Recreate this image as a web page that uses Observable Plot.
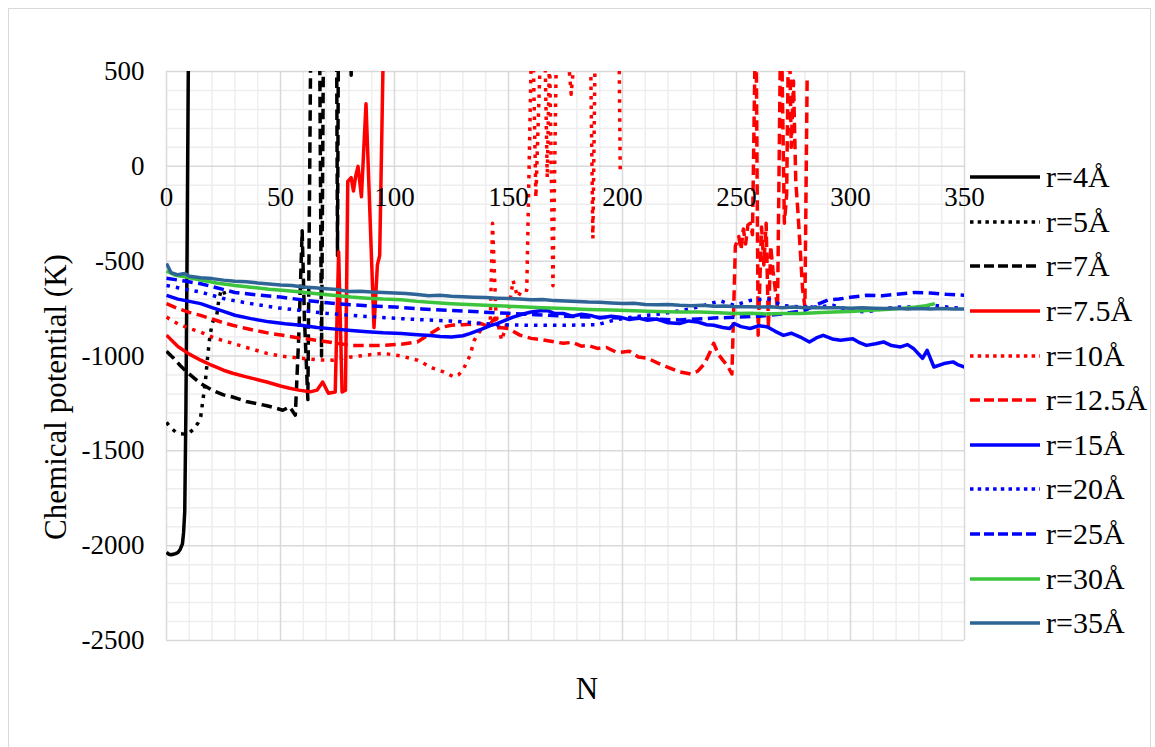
<!DOCTYPE html>
<html>
<head>
<meta charset="utf-8">
<script src="https://cdn.jsdelivr.net/npm/d3@7"></script>
<script src="https://cdn.jsdelivr.net/npm/@observablehq/plot@0.6"></script>
<style>
html,body{margin:0;padding:0;background:#fff;}
#wrap{position:relative;width:1155px;height:747px;font-family:"Liberation Serif","Times New Roman",serif;color:#000;}
#wrap svg{position:absolute;left:0;top:0;}
#border{position:absolute;left:8px;top:8px;width:1143px;height:740px;border:1.5px solid #d9d9d9;box-sizing:border-box;pointer-events:none;}
#ytitle{position:absolute;left:56px;top:397px;transform:translate(-50%,-50%) rotate(-90deg);font-size:31px;white-space:nowrap;}
#xtitle{position:absolute;left:587px;top:689px;transform:translate(-50%,-50%);font-size:31px;}
#legend{position:absolute;left:970px;top:155px;}
.item{display:flex;align-items:center;height:44.6px;font-size:30px;white-space:nowrap;}
.item svg{position:static !important;margin-right:6px;}
</style>
</head>
<body>
<div id="wrap">
  <div id="chart"></div>
  <div id="ytitle">Chemical potential (K)</div>
  <div id="xtitle">N</div>
  <div id="legend"></div>
  <div id="border"></div>
</div>
<script>
// ---- axis ticks ----
const xTicks = [0, 50, 100, 150, 200, 250, 300, 350];
const yTicks = [500, 0, -500, -1000, -1500, -2000, -2500];
const xMinor = [10,20,30,40,60,70,80,90,110,120,130,140,160,170,180,190,210,220,230,240,260,270,280,290,310,320,330,340];
const yMinor = [400,300,200,100,-100,-200,-300,-400,-600,-700,-800,-900,-1100,-1200,-1300,-1400,-1600,-1700,-1800,-1900,-2100,-2200,-2300,-2400];

// ---- series names / styles ----
const seriesNames = ["r=4Å","r=5Å","r=7Å","r=7.5Å","r=10Å","r=12.5Å","r=15Å","r=20Å","r=25Å","r=30Å","r=35Å"];
const seriesColors = ["#000000","#000000","#000000","#ff0000","#ff0000","#ff0000","#0000ff","#0000ff","#0000ff","#3cc43c","#2e6596"];
const seriesStyles = ["solid","dot","dash","solid","dot","dash","solid","dot","dash","solid","solid"];

// ---- data: [N, chemical potential (K)] ----
const r4 = [[0,-2035],[1,-2045],[2,-2048],[3,-2045],[4,-2042],[5,-2036],[6,-2020],[7,-1990],[7.5,-1930],[8,-1820],[8.5,-1300],[9,-500],[9.5,400],[10,1200]];
const r5 = [[0,-1350],[2,-1380],[4,-1400],[6,-1410],[8,-1412],[10,-1405],[12,-1385],[14,-1350],[15,-1320],[16,-1230],[17,-1140],[18,-1010],[19,-900],[20,-830],[21,-800],[22,-790],[23,-700],[24,-650],[25,-655],[26,-690],[27,-700]];
const r7 = [[0,-975],[3,-1010],[6,-1050],[9,-1085],[12,-1115],[15,-1145],[20,-1180],[25,-1205],[29,-1216],[35,-1240],[40,-1252],[44,-1262],[48,-1275],[51,-1286],[54,-1268],[56.5,-1312],[58,-900],[59.5,-340],[60.5,-800],[62,-1230],[63.5,1000],[67,1000],[68,-1000],[69,1000],[74.5,1000],[75,-470],[75.5,1000],[80.5,1000],[81,480],[81.5,1000]];
const r7_5 = [[0,-890],[5,-950],[10,-990],[15,-1022],[20,-1050],[25,-1075],[29,-1091],[35,-1110],[40,-1125],[44,-1137],[50,-1158],[54,-1170],[58,-1180],[63,-1189],[66,-1180],[68.5,-1137],[71,-1196],[74,-1190],[75.5,-450],[77,-1190],[78.5,-1180],[79.5,-80],[81,-60],[82,-130],[83,-50],[84,0],[85.5,-160],[87.5,330],[91,-850],[92.5,-520],[93.5,-470],[95.5,900]];
const r10 = [[0,-795],[5,-830],[10,-855],[15,-874],[20,-900],[25,-920],[29,-933],[35,-955],[44,-986],[50,-1000],[59,-1012],[66,-1020],[73,-1022],[81,-1005],[88,-995],[95,-986],[103,-1000],[110,-1022],[117,-1065],[121.5,-1084],[126,-1110],[128,-1100],[130,-1075],[133,-1000],[135,-917],[138,-860],[142,-829],[143,-300],[144.5,-780],[147,-917],[149,-840],[152,-602],[154,-690],[156,-650],[158,-654],[160,600],[161,500],[162,-164],[164,600],[166,600],[167,-60],[168,600],[169.5,-630],[171,600],[176,600],[177.5,380],[179,600],[186,600],[187,-380],[188,600],[198.5,600],[199,-20]];
const r12_5 = [[0,-724],[5,-750],[10,-770],[15,-786],[20,-805],[25,-825],[29,-838],[35,-855],[40,-868],[45,-880],[51,-891],[58,-905],[66,-917],[73,-930],[81,-944],[88,-945],[95,-944],[103,-938],[110,-926],[116,-880],[120,-850],[125,-838],[130,-835],[138,-829],[141,-845],[144,-800],[146,-850],[150,-855],[155,-890],[160,-907],[165,-915],[170,-925],[174,-933],[178,-928],[182,-948],[185,-945],[189,-960],[193,-955],[197,-978],[199,-980],[203,-975],[207,-1005],[211,-1012],[216,-1040],[220,-1060],[225,-1084],[230,-1095],[233,-1080],[236,-1040],[238,-990],[240,-933],[242,-990],[244,-1022],[246,-1050],[248,-1095],[249.5,-420],[251,-370],[252,-440],[253,-330],[254,-410],[255,-310],[256,-300],[257,-360],[258.5,900],[259.5,-890],[261,-320],[262,-520],[263,-300],[264,-850],[265,-420],[266,-550],[268,-750],[269.5,900],[271,-300],[272,-150],[273,900],[274,100],[275,450],[276,-80],[277,-250],[278,-450],[279,-650],[280,-740],[281,480]];
const r15 = [[0,-680],[5,-700],[10,-712],[15,-724],[20,-745],[25,-765],[30,-785],[37,-803],[45,-820],[52,-830],[59,-838],[66,-850],[73,-857],[81,-865],[88,-872],[95,-878],[103,-882],[110,-888],[116,-892],[120,-897],[125,-900],[130,-893],[133,-882],[138,-860],[142,-840],[145,-829],[149,-810],[152,-795],[156,-780],[160,-768],[164,-762],[167,-760],[170,-775],[174,-776],[178,-790],[182,-780],[186,-786],[190,-800],[195,-790],[199,-795],[203,-808],[207,-800],[211,-812],[215,-805],[220,-825],[225,-829],[229,-815],[233,-821],[237,-835],[240,-838],[244,-850],[247,-855],[249,-829],[252,-845],[256,-855],[260,-840],[263.6,-847],[267,-870],[270.6,-891],[274,-880],[278,-900],[282,-926],[285,-905],[288,-891],[292,-910],[295.6,-917],[301,-909],[304,-930],[307,-944],[311,-935],[314.5,-926],[318,-945],[322,-952],[325,-940],[327.6,-960],[331.6,-1012],[333.6,-970],[336.6,-1058],[341,-1040],[345,-1031],[347,-1045],[350,-1058]];
const r20 = [[0,-628],[5,-640],[10,-652],[15,-663],[20,-680],[26,-700],[37,-724],[48,-745],[59,-760],[70,-775],[81,-786],[92,-795],[103,-803],[114,-810],[125,-816],[135,-825],[145,-835],[160,-838],[174,-838],[189,-835],[196,-812],[204,-795],[211,-785],[218,-776],[226,-760],[233,-742],[238,-725],[243,-710],[249,-733],[256,-707],[263.6,-698],[270,-733],[278,-742],[285,-742],[292.5,-733],[300,-760],[307,-768],[314.5,-750],[322,-742],[329,-742],[336.6,-733],[342.5,-742],[350,-750]];
const r25 = [[0,-590],[8,-605],[15,-619],[22,-640],[30,-665],[40,-678],[50,-689],[62,-708],[75,-725],[88,-735],[100,-742],[112,-752],[125,-760],[138,-768],[150,-775],[162,-782],[175,-790],[188,-795],[200,-800],[212,-805],[225,-810],[240,-800],[250,-795],[260,-790],[270,-778],[280,-760],[285,-730],[290,-705],[295,-700],[300,-690],[307,-680],[314,-682],[320,-675],[328,-665],[335,-668],[342,-675],[350,-680]];
const r30 = [[0,-552],[4,-575],[8,-582],[15,-600],[22,-615],[30,-628],[37,-637],[45,-648],[52,-655],[59,-663],[66,-672],[73,-680],[81,-689],[88,-695],[95,-700],[103,-703],[110,-712],[117,-718],[125,-724],[135,-730],[145,-735],[155,-740],[165,-745],[175,-750],[185,-755],[195,-758],[205,-762],[215,-765],[225,-768],[234,-768],[242,-772],[249,-776],[256,-775],[263,-778],[270,-776],[278,-776],[285,-772],[292.5,-768],[300,-765],[307,-760],[315,-755],[322,-750],[329,-742],[333,-735],[337,-724]];
const r35 = [[0,-512],[2,-560],[5,-572],[8,-565],[10,-580],[15,-588],[20,-592],[25,-600],[30,-606],[35,-608],[40,-615],[45,-620],[50,-626],[55,-628],[60,-636],[65,-640],[70,-645],[75,-650],[80,-660],[85,-658],[90,-663],[95,-665],[100,-668],[105,-670],[110,-676],[115,-682],[120,-680],[125,-685],[130,-688],[135,-690],[140,-692],[145,-695],[150,-697],[155,-700],[160,-703],[165,-702],[170,-708],[175,-710],[180,-712],[185,-715],[190,-716],[195,-720],[200,-723],[205,-722],[210,-728],[215,-730],[220,-728],[225,-733],[230,-735],[235,-733],[240,-738],[245,-736],[250,-740],[255,-740],[260,-742],[265,-740],[270,-745],[275,-742],[280,-745],[285,-744],[290,-746],[295,-745],[300,-748],[305,-746],[310,-748],[315,-750],[320,-748],[325,-752],[330,-750],[335,-752],[340,-750],[345,-752],[350,-752]];

const seriesData = [r4, r5, r7, r7_5, r10, r12_5, r15, r20, r25, r30, r35];

const dashFor = {solid: null, dot: "3.5 6", dash: "10.5 5.5"};
const legendDash = {solid: null, dot: "3.5 4.2", dash: "10 4"};

const lineMarks = seriesData.map((d, i) =>
  Plot.line(d.map(([N, v]) => ({N, v})), {
    x: "N", y: "v",
    stroke: seriesColors[i],
    strokeWidth: 3.5,
    strokeDasharray: dashFor[seriesStyles[i]] || undefined,
    strokeLinecap: "butt",
    strokeLinejoin: "round",
    clip: true
  })
);

const chart = Plot.plot({
  width: 1155,
  height: 747,
  marginLeft: 166,
  marginRight: 191,
  marginTop: 71,
  marginBottom: 107,
  x: {domain: [0, 350], axis: null},
  y: {domain: [-2500, 500], axis: null},
  style: {fontFamily: "Liberation Serif, Times New Roman, serif", fontSize: "27px", background: "transparent", color: "#000"},
  marks: [
    Plot.ruleX(xMinor, {stroke: "#eeeeee", strokeWidth: 1.5}),
    Plot.ruleY(yMinor, {stroke: "#eeeeee", strokeWidth: 1.5}),
    Plot.ruleX(xTicks, {stroke: "#d9d9d9", strokeWidth: 1.5}),
    Plot.ruleY(yTicks, {stroke: "#d9d9d9", strokeWidth: 1.5}),
    ...lineMarks,
    Plot.text(xTicks, {x: d => d, y: 0, dy: 31, text: d => String(d), fontSize: 27, fill: "#000"}),
    Plot.text(yTicks, {y: d => d, frameAnchor: "left", dx: -22, textAnchor: "end", text: d => String(d), fontSize: 27, fill: "#000"})
  ]
});
document.getElementById("chart").appendChild(chart);

// ---- legend ----
const legend = document.getElementById("legend");
seriesNames.forEach((name, i) => {
  const item = document.createElement("div");
  item.className = "item";
  const dash = legendDash[seriesStyles[i]];
  item.innerHTML = `<svg width="70" height="10"><line x1="0" y1="5" x2="70" y2="5" stroke="${seriesColors[i]}" stroke-width="3.5" ${dash ? `stroke-dasharray="${dash}"` : ""}/></svg><span>${name}</span>`;
  legend.appendChild(item);
});
</script>
</body>
</html>
